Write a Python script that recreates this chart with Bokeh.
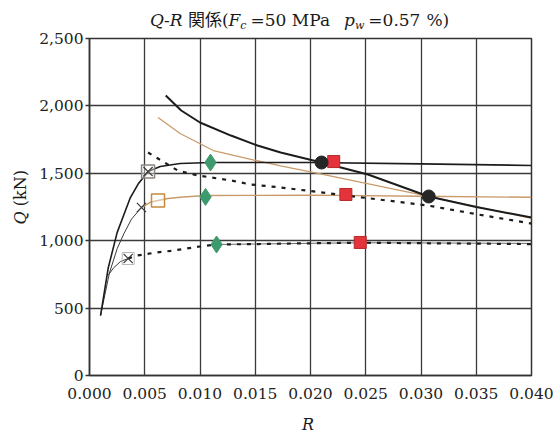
from bokeh.plotting import figure
from bokeh.models import Range1d, FixedTicker, NumeralTickFormatter, Div
from bokeh.layouts import column, row
from bokeh.embed import file_html
from bokeh.resources import INLINE

# ---------------- data ----------------
x_ticks = [0.000, 0.005, 0.010, 0.015, 0.020, 0.025, 0.030, 0.035, 0.040]
y_ticks = [0, 500, 1000, 1500, 2000, 2500]

# skeleton curve (black, upper plateau)
a_r = [0.0010, 0.0017, 0.0025, 0.0031, 0.0037, 0.0044, 0.0053, 0.0064, 0.0082, 0.0110, 0.0200, 0.0300, 0.0400]
a_q = [445, 800, 1060, 1190, 1320, 1420, 1513, 1550, 1573, 1580, 1580, 1570, 1558]

# thin curve to middle cross
b_r = [0.0010, 0.0018, 0.0025, 0.0031, 0.0038, 0.0047]
b_q = [445, 760, 940, 1050, 1160, 1246]

# thin branch to lower cross
c_r = [0.0017, 0.0022, 0.0028, 0.0035]
c_q = [745, 800, 845, 868]

# orange plateau curve
o_r = [0.0047, 0.0055, 0.0062, 0.0071, 0.0082, 0.0105, 0.0200, 0.0300, 0.0400]
o_q = [1246, 1285, 1298, 1313, 1322, 1335, 1338, 1330, 1322]

# lower dashed curve
ld_r = [0.0035, 0.0043, 0.0060, 0.0076, 0.0100, 0.0115, 0.0152, 0.0180, 0.0245, 0.0400]
ld_q = [868, 890, 912, 927, 957, 972, 975, 979, 985, 975]
ls_r = [0.0115, 0.0245, 0.0400]
ls_q = [972, 985, 980]

# upper dashed decreasing curve
ud_r = [0.0053, 0.0080, 0.0098, 0.0128, 0.0146, 0.0173, 0.0218, 0.0306, 0.0357, 0.0405]
ud_q = [1654, 1520, 1484, 1447, 1417, 1395, 1350, 1261, 1187, 1120]

# black decreasing curve
bd_r = [0.0069, 0.0083, 0.0100, 0.0128, 0.0152, 0.0173, 0.0210, 0.0252, 0.0307, 0.0350, 0.0400]
bd_q = [2077, 1966, 1877, 1780, 1706, 1654, 1580, 1491, 1328, 1250, 1172]

# orange decreasing curve
od_r = [0.0062, 0.0082, 0.0112, 0.0148, 0.0173, 0.0210, 0.0307, 0.0400]
od_q = [1914, 1795, 1669, 1600, 1555, 1494, 1328, 1165]

# markers
grey_sq_r = [0.0053]
grey_sq_q = [1513]
cross_r = [0.0053, 0.0047, 0.0035]
cross_q = [1513, 1246, 868]
faint_sq_r = [0.0035]
faint_sq_q = [868]
orange_sq_r = [0.0062]
orange_sq_q = [1298]
diamond_r = [0.01095, 0.0105, 0.0115]
diamond_q = [1580, 1325, 972]
red_r = [0.0221, 0.0232, 0.0245]
red_q = [1587, 1343, 987]
circle_r = [0.0210, 0.0307]
circle_q = [1580, 1328]

SUB = '<sub style="font-size:11px;font-style:italic;vertical-align:-3px;line-height:0;">'
GAP = '<span style="display:inline-block;width:{}px;"></span>'
title_html = ("<i>Q</i>-<i>R</i> 関係(<i>F</i>" + SUB + "c</sub>" + GAP.format(4)
              + "=50 MPa" + GAP.format(14)
              + "<i>p</i>" + SUB + "w</sub>" + GAP.format(4) + "=0.57" + GAP.format(6) + "%)")
xlabel_html = "<i>R</i>"
ylabel_html = "<i>Q</i> (kN)"

# ---------------- layout sizes ----------------
W, H = 555, 433
TITLE_H, XLAB_H, YLAB_W = 30, 24, 34
PW, PH = W - YLAB_W, H - TITLE_H - XLAB_H

FONT = "'DejaVu Serif', 'Noto Sans CJK JP', serif"
base = f"font-family:{FONT};color:#1a1a1a;white-space:nowrap;line-height:19px;"

title_div = Div(
    text=(f'<div style="position:relative;width:{W}px;height:{TITLE_H}px;">'
          f'<div style="position:absolute;left:150px;top:11px;font-size:17px;{base}">'
          + title_html + "</div></div>"),
    width=W, height=TITLE_H, margin=0)

xlab_div = Div(
    text=(f'<div style="position:relative;width:{W}px;height:{XLAB_H}px;">'
          f'<div style="position:absolute;left:288px;width:40px;text-align:center;top:9px;font-size:16px;'
          f'{base}line-height:14px;">'
          + xlabel_html + "</div></div>"),
    width=W, height=XLAB_H, margin=0)

ylab_div = Div(
    text=(f'<div style="position:relative;width:{YLAB_W}px;height:{PH}px;">'
          f'<div style="position:absolute;left:11px;bottom:{PH - (224 - TITLE_H)}px;font-size:16px;'
          f'writing-mode:vertical-rl;transform:rotate(180deg);{base}">'
          + ylabel_html + "</div></div>"),
    width=YLAB_W, height=PH, margin=0)

# frame edges on the page
L, R_, T, B = 89, 531, 38, 375
p = figure(width=PW, height=PH, output_backend="svg", toolbar_location=None,
           x_range=Range1d(0, 0.040), y_range=Range1d(0, 2500),
           min_border_left=L - YLAB_W, min_border_right=W - R_,
           min_border_top=T - TITLE_H, min_border_bottom=(TITLE_H + PH) - B,
           margin=0)
p.title.visible = False
p.background_fill_color = "white"
p.border_fill_color = "white"
p.outline_line_color = "#333333"
p.outline_line_width = 1.5

for ax in (p.xaxis[0], p.yaxis[0]):
    ax.major_label_text_font = "DejaVu Serif"
    ax.major_label_text_font_size = "15.5px"
    ax.major_label_text_color = "#222222"
    ax.axis_line_color = "#333333"
    ax.axis_line_width = 1.5
    ax.minor_tick_line_color = None
    ax.major_tick_line_color = "#333333"
    ax.major_tick_line_width = 1.3

p.xaxis.ticker = FixedTicker(ticks=x_ticks)
p.yaxis.ticker = FixedTicker(ticks=y_ticks)
p.xaxis.formatter = NumeralTickFormatter(format="0.000")
p.yaxis.formatter = NumeralTickFormatter(format="0,0")
p.xaxis.major_tick_out = 0
p.xaxis.major_tick_in = 0
p.xaxis.major_label_standoff = 12
p.yaxis.major_tick_out = 4
p.yaxis.major_tick_in = 0
p.yaxis.major_label_standoff = 2

for g in (p.xgrid[0], p.ygrid[0]):
    g.grid_line_color = "#3a3a3a"
    g.grid_line_width = 1.3
    g.grid_line_alpha = 1.0
p.xgrid.ticker = FixedTicker(ticks=x_ticks)
p.ygrid.ticker = FixedTicker(ticks=y_ticks)

BLACK = "#1c1c1c"
ORANGE = "#c99b6c"

# lines
p.line(od_r, od_q, line_color=ORANGE, line_width=1.3)
p.line(o_r, o_q, line_color=ORANGE, line_width=1.4)
p.line(bd_r, bd_q, line_color=BLACK, line_width=2.0)
p.line(ud_r, ud_q, line_color=BLACK, line_width=2.2, line_dash="4 6")
p.line(ls_r, ls_q, line_color="#444444", line_width=0.8)
p.line(ld_r, ld_q, line_color=BLACK, line_width=2.2, line_dash="4 6")
p.line(b_r, b_q, line_color="#3a3a3a", line_width=1.0)
p.line(c_r, c_q, line_color="#3a3a3a", line_width=1.0)
p.line(a_r, a_q, line_color=BLACK, line_width=1.6)

# markers
p.scatter(faint_sq_r, faint_sq_q, marker="square", size=12, fill_alpha=0,
          line_color="#b8b8b8", line_width=1.0)
p.scatter(grey_sq_r, grey_sq_q, marker="square", size=13, fill_color="white", fill_alpha=0.4,
          line_color="#8c8580", line_width=1.5)
p.scatter(orange_sq_r, orange_sq_q, marker="square", size=13, fill_color="white", fill_alpha=0.4,
          line_color="#c8893a", line_width=1.5)
p.scatter(cross_r, cross_q, marker="x", size=13, line_color="#3a3a3a", line_width=1.2)
p.scatter(diamond_r, diamond_q, marker="diamond", size=17, fill_color="#3d9a6c",
          line_color="#3d9a6c")
p.scatter(red_r, red_q, marker="square", size=12, fill_color="#e5333b",
          line_color="#b32828", line_width=1)
p.scatter(circle_r, circle_q, marker="circle", size=13, fill_color="#262626",
          line_color="#262626")

layout = column(title_div, row(ylab_div, p, spacing=0, margin=0), xlab_div,
                spacing=0, margin=0)

open("out.html", "w").write(file_html(layout, INLINE))
